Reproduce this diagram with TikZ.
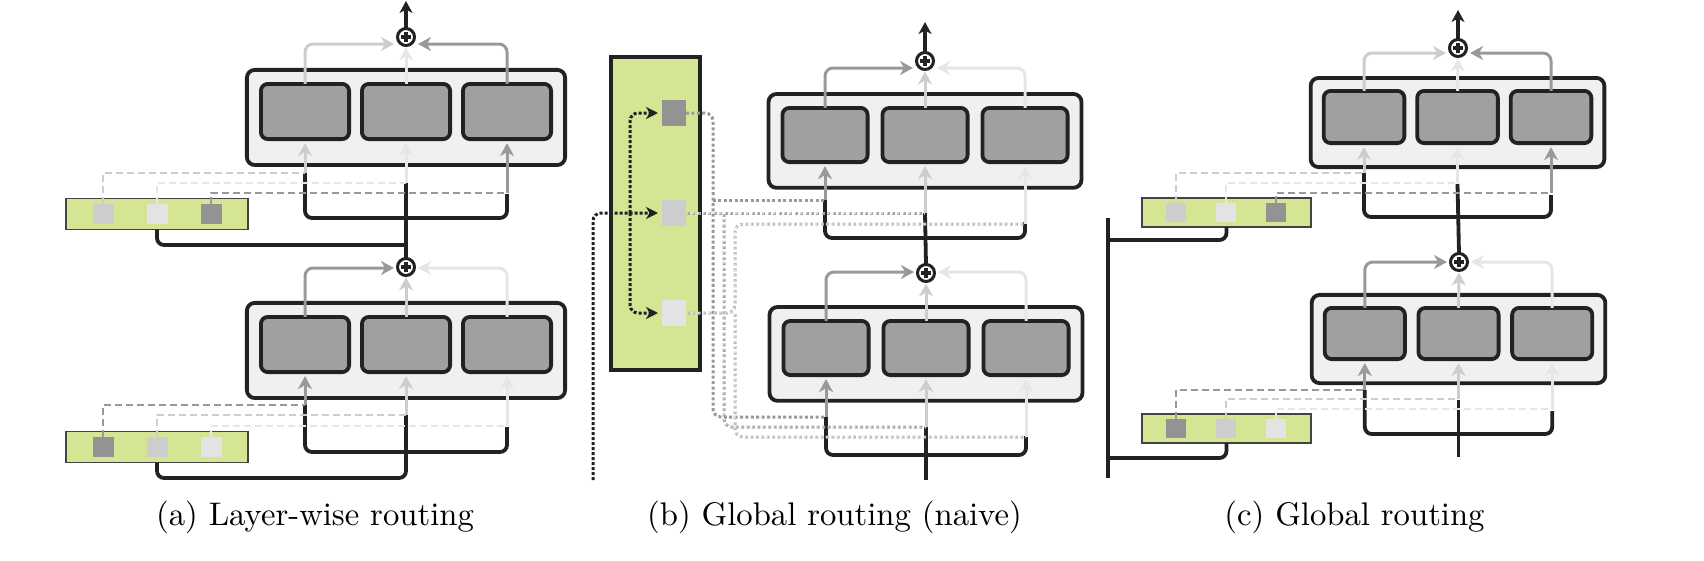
\documentclass[tikz,border=0pt]{standalone}
\usepackage{fontspec}
\usepackage{graphicx}
\usetikzlibrary{arrows.meta,calc}
\definecolor{cA}{HTML}{999999}
\definecolor{cB}{HTML}{CDCDCD}
\definecolor{cC}{HTML}{E6E6E6}
\definecolor{ink}{HTML}{222222}
\definecolor{outerfill}{HTML}{F0F0F0}
\definecolor{innerfill}{HTML}{A0A0A0}
\definecolor{routerfill}{HTML}{D4E594}
\definecolor{sqA}{HTML}{939393}
\definecolor{sqB}{HTML}{CDCDCD}
\definecolor{sqC}{HTML}{E3E3E3}
\tikzset{
  outerbox/.style={draw=ink, line width=3.8pt, fill=outerfill, rounded corners=8pt, inner sep=0pt, outer sep=0pt},
  innerbox/.style={draw=ink, line width=3.8pt, fill=innerfill, rounded corners=7pt, inner sep=0pt, outer sep=0pt},
  plusc/.style={circle, draw=ink, line width=3pt, fill=white, minimum size=17pt, inner sep=0pt, outer sep=0pt,
    path picture={
      \draw[ink, line width=3.4pt] ([xshift=-5pt]path picture bounding box.center) -- ([xshift=5pt]path picture bounding box.center);
      \draw[ink, line width=3.4pt] ([yshift=-5pt]path picture bounding box.center) -- ([yshift=5pt]path picture bounding box.center);}},
  router/.style={draw=ink!85, line width=1.4pt, fill=routerfill, inner sep=0pt, outer sep=0pt},
  gbox/.style={draw=ink, line width=3.8pt, fill=routerfill, inner sep=0pt, outer sep=0pt},
  sqnode/.style={minimum width=21pt, minimum height=20pt, inner sep=0pt, outer sep=0pt},
  bsq/.style={minimum width=24pt, minimum height=26pt, inner sep=0pt, outer sep=0pt},
  csq/.style={minimum width=20pt, minimum height=19pt, inner sep=0pt, outer sep=0pt},
  arr/.style={line width=3pt, -{Stealth[length=13pt, width=14pt, inset=4pt]}},
  rc/.style={rounded corners=8pt},
  outarr/.style={draw=ink, line width=3.5pt, -{Stealth[length=12pt, width=13pt, inset=3.5pt]}},
  blk/.style={draw=ink, line width=3.8pt, rounded corners=7pt},
  dsh/.style={line width=2.8pt, dash pattern=on 7pt off 4pt},
  bdot/.style={draw=ink, line width=3pt, dash pattern=on 3pt off 2pt, rounded corners=8pt},
  bdotarr/.style={-{Stealth[length=12pt, width=12pt, inset=3.5pt]}},
  gdotA/.style={draw=cA, line width=3pt, dash pattern=on 3pt off 2.4pt, rounded corners=8pt},
  gdotB/.style={rounded corners=8pt, preaction={draw=black!35, line width=3pt, dash pattern=on 3pt off 2.4pt},
    draw=black!13, line width=1.4pt, dash pattern=on 1.4pt off 4pt, dash phase=4.6pt},
  gdotC/.style={rounded corners=8pt, preaction={draw=black!27, line width=3pt, dash pattern=on 3pt off 2.4pt},
    draw=black!5, line width=1.4pt, dash pattern=on 1.4pt off 4pt, dash phase=4.6pt},
  capt/.style={anchor=base, inner sep=0pt},
}
\newcommand\captext[1]{\scalebox{3.27}{#1}}
% #1 prefix, #2 centre x, #3 inner top y, #4 spacing, #5 inner width, #6 inner height
\newcommand\moeblock[6]{%
  \pgfmathsetmacro\mbM{0.139*#4}%
  \pgfmathsetmacro\mbB{0.257*#4}%
  \pgfmathsetmacro\mbW{2*#4+#5+2*\mbM-3.8}%
  \pgfmathsetmacro\mbH{#6+\mbM+\mbB-3.8}%
  \pgfmathsetmacro\mbY{#3-\mbM+(#6+\mbM+\mbB)/2}%
  \pgfmathsetmacro\mbI{#3+#6/2}%
  \pgfmathsetmacro\mbL{#2-#4}%
  \pgfmathsetmacro\mbR{#2+#4}%
  \pgfmathsetmacro\mbIW{#5-3.8}%
  \pgfmathsetmacro\mbIH{#6-3.8}%
  \node[outerbox, minimum width=\mbW pt, minimum height=\mbH pt] (#1o) at (#2,\mbY) {};
  \node[innerbox, minimum width=\mbIW pt, minimum height=\mbIH pt] (#1e1) at (\mbL,\mbI) {};
  \node[innerbox, minimum width=\mbIW pt, minimum height=\mbIH pt] (#1e2) at (#2,\mbI) {};
  \node[innerbox, minimum width=\mbIW pt, minimum height=\mbIH pt] (#1e3) at (\mbR,\mbI) {};
}
\begin{document}
\begin{tikzpicture}[x=1pt,y=-1pt]
\useasboundingbox (0,0) rectangle (1704,560);

% ================= (a) =================
\moeblock{au}{406}{82}{101}{92}{59}
\moeblock{al}{406}{315}{101}{92}{59}
\node[plusc] (aup) at (406,37) {};
\node[plusc] (alp) at (406,267) {};
\node[router, minimum width=182pt, minimum height=31pt] (aur) at (157,214) {};
\node[sqnode, fill=sqB] (aus1) at (103,214) {};
\node[sqnode, fill=sqC] (aus2) at (157,214) {};
\node[sqnode, fill=sqA] (aus3) at (211,214) {};
\node[router, minimum width=182pt, minimum height=31pt] (alr) at (157,447) {};
\node[sqnode, fill=sqA] (als1) at (103,447) {};
\node[sqnode, fill=sqB] (als2) at (157,447) {};
\node[sqnode, fill=sqC] (als3) at (211,447) {};

\draw[blk] (aue1.south |- 0,173) |- (aue3.south |- 0,218) -- (aue3.south |- 0,194);
\draw[blk] (aue2.south |- 0,183) -- (alp.north);
\draw[blk] (aur.south) |- (aue2.south |- 0,245);
\draw[blk] (ale1.south |- 0,405) |- (ale3.south |- 0,452) -- (ale3.south |- 0,427);
\draw[blk] (alr.south) |- (ale2.south |- 0,478) -- (ale2.south |- 0,415);

\draw[dsh, cB] (aus1.north) |- (aue1.south |- 0,173);
\draw[dsh, cC] (aus2.north) |- (aue2.south |- 0,183);
\draw[dsh, cA] (aus3.north) |- (aue3.south |- 0,193);
\draw[dsh, cA] (als1.north) |- (ale1.south |- 0,405);
\draw[dsh, cB] (als2.north) |- (ale2.south |- 0,415);
\draw[dsh, cC] (als3.north) |- (ale3.south |- 0,426);

\draw[arr, cB] (aue1.south |- 0,173) -- ([yshift=-4pt]aue1.south);
\draw[arr, cC] (aue2.south |- 0,183) -- ([yshift=-4pt]aue2.south);
\draw[arr, cA] (aue3.south |- 0,193) -- ([yshift=-4pt]aue3.south);
\draw[arr, cA] (ale1.south |- 0,405) -- ([yshift=-4pt]ale1.south);
\draw[arr, cB] (ale2.south |- 0,415) -- ([yshift=-4pt]ale2.south);
\draw[arr, cC] (ale3.south |- 0,426) -- ([yshift=-4pt]ale3.south);

\draw[arr, cB, rc] (aue1.north) |- ($(aup)+(-12,7)$);
\draw[arr, cA, rc] (aue3.north) |- ($(aup)+(12,7)$);
\draw[arr, cC] (aue2.north) -- ([yshift=-2pt]aup.south);
\draw[arr, cA, rc] (ale1.north) |- ($(alp)+(-12,1)$);
\draw[arr, cC, rc] (ale3.north) |- ($(alp)+(12,1)$);
\draw[arr, cB] (ale2.north) -- ([yshift=-2pt]alp.south);
\coordinate (aout) at (406,1);
\draw[outarr] (aup.north) -- (aout);

% ================= (b) =================
\moeblock{bu}{925}{106}{100}{89}{58}
\moeblock{bl}{926}{319}{100}{89}{58}
\node[plusc] (bup) at (925,61) {};
\node[plusc] (blp) at (926,273) {};
\node[gbox, minimum width=89.5pt, minimum height=313.5pt] (bg) at (655.5,213.5) {};
\node[bsq, fill=sqA] (bs1) at (674,113) {};
\node[bsq, fill=sqB] (bs2) at (674,213) {};
\node[bsq, fill=sqC] (bs3) at (674,313) {};

\draw[blk] (bue1.south |- 0,200) |- (bue3.south |- 0,238) -- (bue3.south |- 0,222);
\draw[blk] (bue2.south |- 0,213) -- (blp.north);
\draw[blk] (ble1.south |- 0,417) |- (ble3.south |- 0,455) -- (ble3.south |- 0,436);
\draw[blk] (ble2.south |- 0,427) -- (ble2.south |- 0,480);

\coordinate (bin) at (593,480);
\coordinate (bsplit) at (630,213);
\draw[bdot, bdotarr] (bin) |- ([xshift=-4pt]bs2.west);
\draw[bdot, bdotarr] (bsplit) |- ([xshift=-4pt]bs1.west);
\draw[bdot, bdotarr] (bsplit) |- ([xshift=-4pt]bs3.west);

\coordinate (bvA) at (713,417);
\coordinate (bvB) at (724,213);
\coordinate (bvC) at (735,224);
\draw[gdotA] (bs1.east) -| (bvA) -- (ble1.south |- bvA);
\draw[gdotA] (bvA |- 0,200) -- (bue1.south |- 0,200);
\draw[gdotB] (bs2.east) -- (bue2.south |- bs2.east);
\draw[gdotB] (bvB) |- (ble2.south |- 0,427);
\draw[gdotC] (bs3.east) -| (bvC) -- (bue3.south |- bvC);
\draw[gdotC] (bvC |- bs3.east) |- (ble3.south |- 0,437);

\draw[arr, cA] (bue1.south |- 0,200) -- ([yshift=-4pt]bue1.south);
\draw[arr, cB] (bue2.south |- 0,213) -- ([yshift=-4pt]bue2.south);
\draw[arr, cC] (bue3.south |- 0,224) -- ([yshift=-4pt]bue3.south);
\draw[arr, cA] (ble1.south |- 0,417) -- ([yshift=-4pt]ble1.south);
\draw[arr, cB] (ble2.south |- 0,427) -- ([yshift=-4pt]ble2.south);
\draw[arr, cC] (ble3.south |- 0,437) -- ([yshift=-4pt]ble3.south);

\draw[arr, cA, rc] (bue1.north) |- ($(bup)+(-12,7)$);
\draw[arr, cC, rc] (bue3.north) |- ($(bup)+(12,7)$);
\draw[arr, cB] (bue2.north) -- ([yshift=-2pt]bup.south);
\draw[arr, cA, rc] (ble1.north) |- ($(blp)+(-12,-1)$);
\draw[arr, cC, rc] (ble3.north) |- ($(blp)+(12,-1)$);
\draw[arr, cB] (ble2.north) -- ([yshift=-2pt]blp.south);
\coordinate (bout) at (925,22);
\draw[outarr] (bup.north) -- (bout);

% ================= (c) =================
\moeblock{cu}{1457.5}{89}{93.5}{84.5}{56}
\moeblock{cl}{1458.5}{306}{93.7}{84}{55}
\node[plusc] (cup) at (1458,48) {};
\node[plusc] (clp) at (1459,262) {};
\node[router, minimum width=169pt, minimum height=29pt] (cur) at (1226.5,212.5) {};
\node[csq, fill=sqB] (cus1) at (1176,212.5) {};
\node[csq, fill=sqC] (cus2) at (1226,212.5) {};
\node[csq, fill=sqA] (cus3) at (1276,212.5) {};
\node[router, minimum width=169pt, minimum height=29pt] (clr) at (1226.5,428.5) {};
\node[csq, fill=sqA] (cls1) at (1176,428.5) {};
\node[csq, fill=sqB] (cls2) at (1226,428.5) {};
\node[csq, fill=sqC] (cls3) at (1276,428.5) {};

\coordinate (cbarT) at (1108,218);
\coordinate (cbarB) at (1108,478);
\draw[blk] (cue1.south |- 0,173) |- (cue3.south |- 0,217) -- (cue3.south |- 0,195);
\draw[blk] (cue2.south |- 0,184) -- (clp.north);
\draw[blk] (cur.south) |- (cbarT |- 0,240);
\draw[blk, rounded corners=0pt] (cbarT) -- (cbarB);
\draw[blk] (cle1.south |- 0,390) |- (cle3.south |- 0,434) -- (cle3.south |- 0,411);
\draw[blk] (cle2.south |- 0,400) -- (cle2.south |- 0,457);
\draw[blk] (clr.south) |- (cbarT |- 0,458);

\draw[dsh, cB] (cus1.north) |- (cue1.south |- 0,173);
\draw[dsh, cC] (cus2.north) |- (cue2.south |- 0,183);
\draw[dsh, cA] (cus3.north) |- (cue3.south |- 0,193);
\draw[dsh, cA] (cls1.north) |- (cle1.south |- 0,390);
\draw[dsh, cB] (cls2.north) |- (cle2.south |- 0,399);
\draw[dsh, cC] (cls3.north) |- (cle3.south |- 0,409);

\draw[arr, cB] (cue1.south |- 0,173) -- ([yshift=-4pt]cue1.south);
\draw[arr, cC] (cue2.south |- 0,183) -- ([yshift=-4pt]cue2.south);
\draw[arr, cA] (cue3.south |- 0,193) -- ([yshift=-4pt]cue3.south);
\draw[arr, cA] (cle1.south |- 0,390) -- ([yshift=-4pt]cle1.south);
\draw[arr, cB] (cle2.south |- 0,399) -- ([yshift=-4pt]cle2.south);
\draw[arr, cC] (cle3.south |- 0,409) -- ([yshift=-4pt]cle3.south);

\draw[arr, cB, rc] (cue1.north) |- ($(cup)+(-12,5)$);
\draw[arr, cA, rc] (cue3.north) |- ($(cup)+(12,5)$);
\draw[arr, cC] (cue2.north) -- ([yshift=-2pt]cup.south);
\draw[arr, cA, rc] (cle1.north) |- ($(clp)+(-12,0)$);
\draw[arr, cC, rc] (cle3.north) |- ($(clp)+(12,0)$);
\draw[arr, cB] (cle2.north) -- ([yshift=-2pt]clp.south);
\coordinate (cout) at (1458,10);
\draw[outarr] (cup.north) -- (cout);

% ================= captions =================
\node[capt] (capa) at (315,525) {\captext{(a) Layer-wise routing}};
\node[capt] (capb) at (834.5,525) {\captext{(b) Global routing (naive)}};
\node[capt] (capc) at (1354.5,525) {\captext{(c) Global routing}};
\end{tikzpicture}
\end{document}
